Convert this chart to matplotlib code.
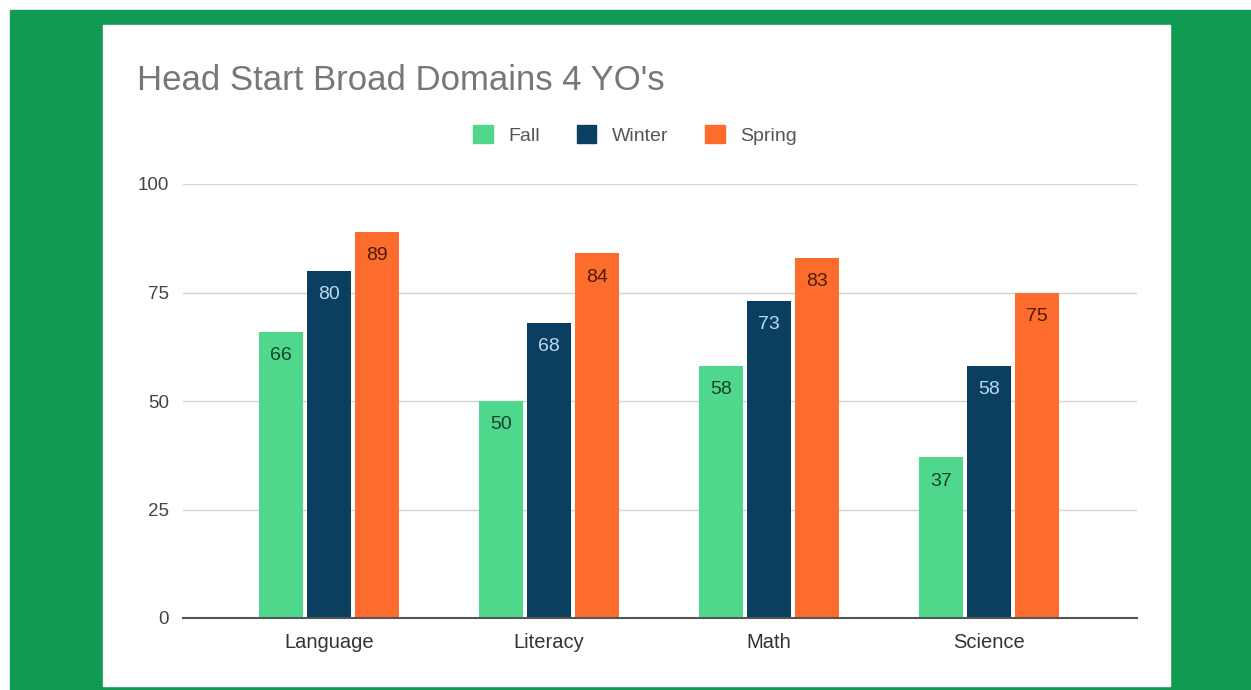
import matplotlib.pyplot as plt
import matplotlib.patches as mpatches
import numpy as np

categories = ['Language', 'Literacy', 'Math', 'Science']
fall = [66, 50, 58, 37]
winter = [80, 68, 73, 58]
spring = [89, 84, 83, 75]
series_names = ['Fall', 'Winter', 'Spring']
yticks = [0, 25, 50, 75, 100]

colors = ['#4fd88c', '#0b3f5f', '#fd6c2c']
label_colors = ['#16432a', '#bcd9ee', '#4a1c05']

plt.rcParams['font.family'] = ['Liberation Sans', 'DejaVu Sans']

W, H = 1251, 690
fig = plt.figure(figsize=(W / 100, H / 100), dpi=100)
fig.patch.set_facecolor('white')

# green frame and white panel, drawn on a background axes
bg = fig.add_axes([0, 0, 1, 1], zorder=-1)
bg.set_xlim(0, W)
bg.set_ylim(H, 0)
bg.axis('off')
bg.add_patch(mpatches.Rectangle((10, 10), W - 10, H - 10, color='#109a52'))
bg.add_patch(mpatches.Rectangle((103, 25), 1170 - 103, 686 - 25, color='white'))

ax = fig.add_axes([183 / W, (H - 618) / H, (1137 - 183) / W, (618 - 184) / H])
ax.set_facecolor('none')

x = np.arange(len(categories))
width = 0.2
step = 0.218
for i, (vals, name) in enumerate(zip([fall, winter, spring], series_names)):
    pos = x + (i - 1) * step
    bars = ax.bar(pos, vals, width, color=colors[i], label=name, zorder=3)
    for b, v in zip(bars, vals):
        ax.annotate(str(v), (b.get_x() + b.get_width() / 2, v), xytext=(0, -17),
                    textcoords='offset points', ha='center', va='center',
                    fontsize=14, color=label_colors[i], zorder=4)

ax.set_xlim(-0.664, 3.673)
ax.set_ylim(0, 100)
ax.set_yticks(yticks)
ax.set_yticklabels([str(t) for t in yticks], fontsize=13.5, color='#444444')
ax.set_xticks(x)
ax.set_xticklabels(categories, fontsize=14.5, color='#333333')
ax.tick_params(axis='both', length=0)
ax.tick_params(axis='y', pad=10)
ax.tick_params(axis='x', pad=11)
ax.grid(axis='y', color='#d4d4d4', linewidth=1, zorder=0)
for s in ['top', 'right', 'left']:
    ax.spines[s].set_visible(False)
ax.spines['bottom'].set_color('#555555')
ax.spines['bottom'].set_linewidth(1.5)
ax.spines['bottom'].set_zorder(5)

fig.text(137 / W, 1 - 80 / H, "Head Start Broad Domains 4 YO's", fontsize=25,
         color='#777777', va='center', ha='left')

handles = [mpatches.Patch(color=c) for c in colors]
fig.legend(handles, series_names, loc='center', bbox_to_anchor=(635 / W, 1 - 135 / H),
           ncol=3, frameon=False, fontsize=14, handlelength=1.0, handleheight=1.0,
           handletextpad=0.8, columnspacing=1.9, labelcolor='#555555')

plt.savefig('out.png', dpi=100)
